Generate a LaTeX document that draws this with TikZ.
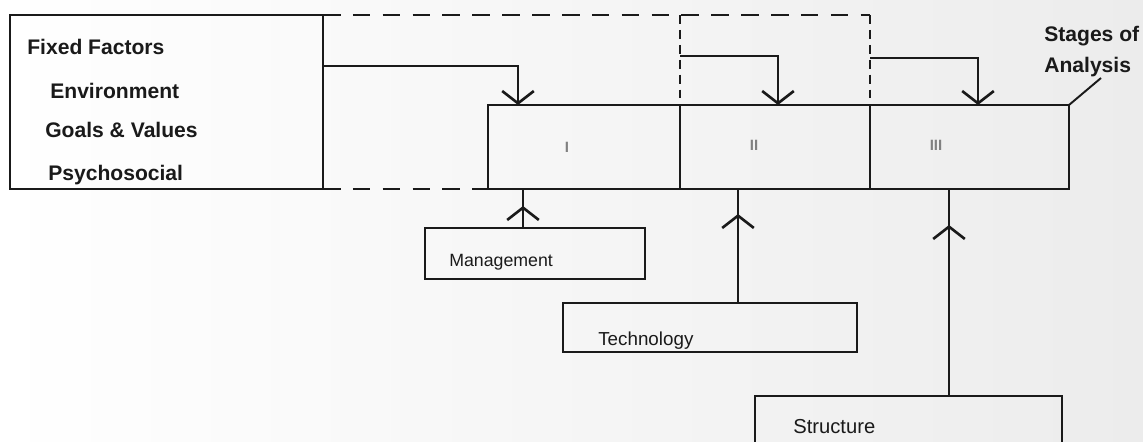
\documentclass[tikz,border=0pt]{standalone}
\usepackage{fontspec}
\setmainfont{Liberation Sans}
\usetikzlibrary{arrows.meta,fit}
\definecolor{ink}{HTML}{1A1A1A}
\definecolor{paper}{HTML}{ECECEC}
\definecolor{numgray}{HTML}{808080}
\begin{document}
\begin{tikzpicture}[x=0.02cm,y=-0.02cm,
  line width=1.5pt, draw=ink,
  box/.style={draw=ink, rectangle, inner sep=0pt, outer sep=0pt, line width=1.5pt},
  lbl/.style={font=\bfseries\fontsize{12}{14}\selectfont, text=ink, inner sep=0pt, anchor=base west},
  blbl/.style={font=\fontsize{10.5}{12}\selectfont, text=ink, inner sep=0pt, anchor=base west},
  rom/.style={font=\bfseries\fontsize{8.5}{9}\selectfont, text=numgray, inner sep=0pt},
  hdash/.style={dash pattern=on 10pt off 7pt},
  vdash/.style={dash pattern=on 5pt off 3.5pt},
  barb/.style={-{Straight Barb[length=7pt,width=18pt]}}
]
\useasboundingbox (0,0) rectangle (1143,442);
\shade[left color=white,right color=paper] (0,0) rectangle (1143,442);

% boxes
\node[box, fit={(10,15)(323,189)}] (fixed) {};
\node[box, fit={(488,105)(680,189)}] (s1) {};
\node[box, fit={(680,105)(870,189)}] (s2) {};
\node[box, fit={(870,105)(1069,189)}] (s3) {};
\node[box, fit={(425,228)(645,279)}] (mgmt) {};
\node[box, fit={(563,303)(857,352)}] (tech) {};
\node[box, fit={(755,396)(1062,480)}] (struct) {};

% texts
\node[lbl] (tff) at (26,55) {Fixed Factors};
\node[lbl] (tenv) at (49,99) {Environment};
\node[lbl] (tgoal) at (44,138) {Goals \& Values};
\node[lbl] (tpsy) at (47,181) {Psychosocial};
\node[lbl] (tst1) at (1043,42) {Stages of};
\node[lbl] (tst2) at (1043,73) {Analysis};
\node[blbl, font=\fontsize{10.1}{12}\selectfont] (tm) at (448,267) {Management};
\node[blbl, font=\fontsize{10.7}{12}\selectfont] (tt) at (597,345) {Technology};
\node[blbl, font=\fontsize{11.5}{12}\selectfont] (ts) at (792,433) {Structure};
\node[rom] (r1) at (567,147) {I};
\node[rom] (r2) at (754,145) {II};
\node[rom] (r3) at (936,145) {III};

% dashed frame
\draw[hdash] (fixed.north east) -- (fixed.north east -| s3.north west);
\draw[vdash] (fixed.north east -| s3.north west) -- (s3.north west);
\draw[vdash] (fixed.north east -| s2.north west) -- (s2.north west);
\draw[hdash] (fixed.south east) -- (s1.south west);

% down arrows
\coordinate (ax1) at (518,0);
\coordinate (ax2) at (778,0);
\coordinate (ax3) at (978,0);
\coordinate (a1) at (323,66);
\coordinate (a2) at (680,56);
\coordinate (a3) at (870,58);
\draw[barb] (a1) -| (ax1 |- s1.north);
\draw[barb] (a2) -| (ax2 |- s2.north);
\draw[barb] (a3) -| (ax3 |- s3.north);

% up arrows
\coordinate (ux1) at (523,0);
\coordinate (ux2) at (738,0);
\coordinate (ux3) at (949,0);
\coordinate (h1) at (523,206);
\coordinate (h2) at (738,214);
\coordinate (h3) at (949,225);
\draw (ux1 |- mgmt.north) -- (ux1 |- s1.south);
\draw[barb] (ux1 |- mgmt.north) -- (h1);
\draw (ux2 |- tech.north) -- (ux2 |- s2.south);
\draw[barb] (ux2 |- tech.north) -- (h2);
\draw (ux3 |- struct.north) -- (ux3 |- s3.south);
\draw[barb] (ux3 |- struct.north) -- (h3);

% leader
\coordinate (ldr) at (1101,78);
\draw[line width=1.1pt] (ldr) -- (s3.north east);
\end{tikzpicture}
\end{document}
